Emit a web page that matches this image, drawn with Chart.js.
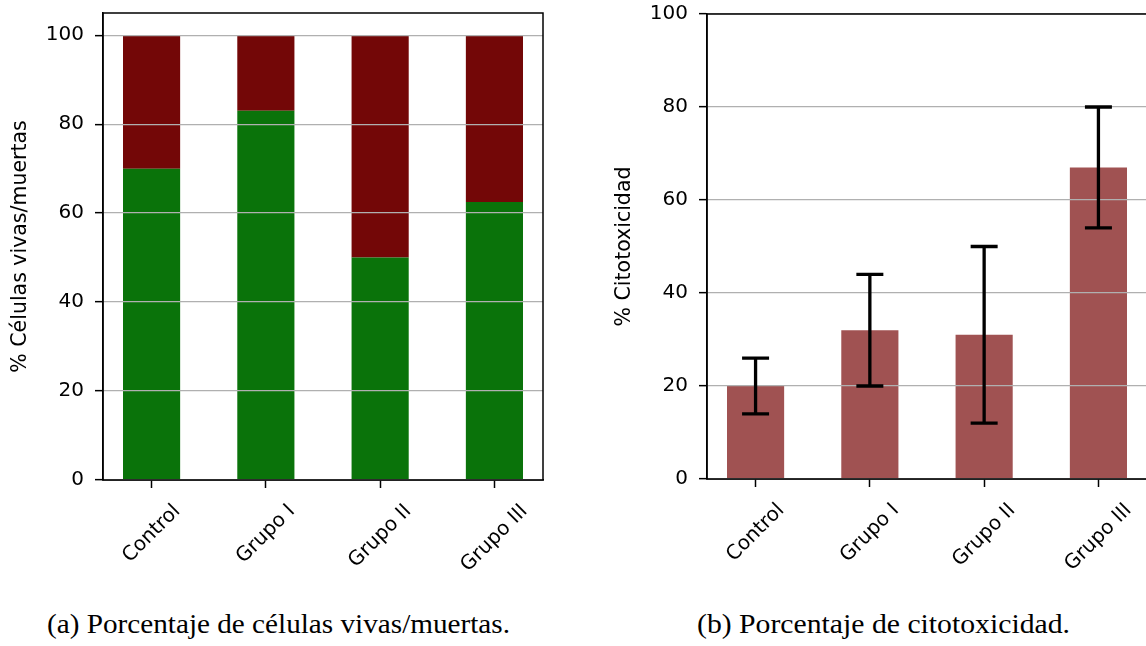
<!DOCTYPE html>
<html>
<head>
<meta charset="utf-8">
<script src="https://cdn.jsdelivr.net/npm/chart.js@4/dist/chart.umd.min.js"></script>
<style>
  html, body { margin: 0; padding: 0; background: #fff; overflow: hidden; width: 1146px; height: 646px; }
  .panel { position: absolute; top: 0; }
  .caption { position: absolute; top: 608px; font-family: "Liberation Serif", serif; font-size: 28px; color: #000; white-space: nowrap; transform-origin: left center; }
</style>
</head>
<body>
<div class="panel" style="left:0px"><canvas id="vivas" width="560" height="600"></canvas></div>
<div class="panel" style="left:604px"><canvas id="citotox" width="560" height="600"></canvas></div>
<div class="caption" id="capA" data-w="463" style="left:47px">(a) Porcentaje de células vivas/muertas.</div>
<div class="caption" id="capB" data-w="373" style="left:697px">(b) Porcentaje de citotoxicidad.</div>

<script>
// data
const grupos = ['Control', 'Grupo I', 'Grupo II', 'Grupo III'];
const vivas = [70, 83, 50, 62.5];
const muertas = [30, 17, 50, 37.5];
const citotox = [20, 32, 31, 67];
const citoMin = [14, 20, 12, 54];
const citoMax = [26, 44, 50, 80];
const yTicks = [0, 20, 40, 60, 80, 100];

const FONT = 'DejaVu Sans';
const tickFont = { family: FONT, size: 20 };

const pts = arr => arr.map((v, i) => ({ x: i, y: v }));

// box around the plot area (matplotlib style spines)
const spines = {
  id: 'spines',
  afterDraw(chart) {
    const { ctx, chartArea: a } = chart;
    ctx.save();
    ctx.strokeStyle = '#000';
    ctx.lineWidth = 1.5;
    ctx.strokeRect(a.left, a.top, a.right - a.left, a.bottom - a.top);
    ctx.restore();
  }
};

// rotated category names, centred under each tick
const xLabels = {
  id: 'xLabels',
  afterDraw(chart) {
    const { ctx, chartArea: a } = chart;
    const xs = chart.scales.x;
    ctx.save();
    ctx.font = tickFont.size + 'px ' + FONT;
    ctx.fillStyle = '#000';
    ctx.textAlign = 'center';
    ctx.textBaseline = 'middle';
    const h = tickFont.size * 1.15;
    grupos.forEach((g, i) => {
      const w = ctx.measureText(g).width;
      const half = (w + h) * Math.SQRT1_2 / 2;
      const px = xs.getPixelForValue(i);
      const cy = a.bottom + 20 + half;
      ctx.save();
      ctx.translate(px, cy);
      ctx.rotate(-Math.PI / 4);
      ctx.fillText(g, 0, 0);
      ctx.restore();
    });
    ctx.restore();
  }
};

// error bars for the cytotoxicity panel
const errorBars = {
  id: 'errorBars',
  afterDraw(chart) {
    if (chart.canvas.id !== 'citotox') return;
    const { ctx } = chart;
    const xs = chart.scales.x, ys = chart.scales.y;
    ctx.save();
    ctx.strokeStyle = '#000';
    ctx.lineWidth = 3.3;
    grupos.forEach((g, i) => {
      const px = xs.getPixelForValue(i);
      const lo = ys.getPixelForValue(citoMin[i]);
      const hi = ys.getPixelForValue(citoMax[i]);
      ctx.beginPath();
      ctx.moveTo(px, lo); ctx.lineTo(px, hi);
      ctx.moveTo(px - 13.5, lo); ctx.lineTo(px + 13.5, lo);
      ctx.moveTo(px - 13.5, hi); ctx.lineTo(px + 13.5, hi);
      ctx.stroke();
    });
    ctx.restore();
  }
};

function scales(yMax, title, stacked, xHeight) {
  return {
    x: {
      type: 'linear',
      min: -0.425,
      max: 3.425,
      offset: false,
      stacked: stacked,
      afterBuildTicks: s => { s.ticks = grupos.map((g, i) => ({ value: i })); },
      afterFit: s => { s.height = xHeight; s.paddingLeft = 0; s.paddingRight = 0; },
      ticks: { display: false },
      grid: { offset: false, drawOnChartArea: false, tickLength: 8, tickColor: '#000', tickWidth: 1.5 },
      border: { display: true, color: '#000', width: 1.5, z: 1 }
    },
    y: {
      min: 0,
      max: yMax,
      stacked: stacked,
      afterBuildTicks: s => { s.ticks = yTicks.map(v => ({ value: v })); },
      afterFit: s => { s.width = 103; s.paddingTop = 0; s.paddingBottom = 0; },
      ticks: { color: '#000', font: tickFont, padding: 11 },
      grid: { color: '#b0b0b0', lineWidth: 1.3, z: 1, tickLength: 8, tickColor: '#000', tickWidth: 1.5 },
      border: { display: true, color: '#000', width: 1.5, z: 1 },
      title: { display: true, text: title, color: '#000', font: { family: FONT, size: 20.5 }, padding: { top: 8, bottom: 0 } }
    }
  };
}

const common = {
  responsive: false,
  animation: false,
  devicePixelRatio: 1,
  plugins: { legend: { display: false }, tooltip: { enabled: false } }
};

new Chart(document.getElementById('vivas'), {
  type: 'bar',
  data: {
    datasets: [
      { label: 'Vivas', data: pts(vivas), backgroundColor: '#0a730a', barPercentage: 1, categoryPercentage: 0.5 },
      { label: 'Muertas', data: pts(muertas), backgroundColor: '#730707', barPercentage: 1, categoryPercentage: 0.5 }
    ]
  },
  options: Object.assign({}, common, {
    layout: { padding: { top: 13, right: 17, left: 0, bottom: 0 } },
    scales: scales(105, '% Células vivas/muertas', true, 120)
  }),
  plugins: [spines, xLabels]
});

new Chart(document.getElementById('citotox'), {
  type: 'bar',
  data: {
    datasets: [
      { label: 'Citotoxicidad', data: pts(citotox), backgroundColor: '#a05252', barPercentage: 1, categoryPercentage: 0.5 }
    ]
  },
  options: Object.assign({}, common, {
    layout: { padding: { top: 14, right: 17, left: 0, bottom: 0 } },
    scales: scales(100, '% Citotoxicidad', false, 121)
  }),
  plugins: [spines, xLabels, errorBars]
});

// stretch the captions to the printed width
document.querySelectorAll('.caption').forEach(el => {
  const w = el.getBoundingClientRect().width;
  el.style.transform = 'scaleX(' + (Number(el.dataset.w) / w) + ')';
});
</script>
</body>
</html>
